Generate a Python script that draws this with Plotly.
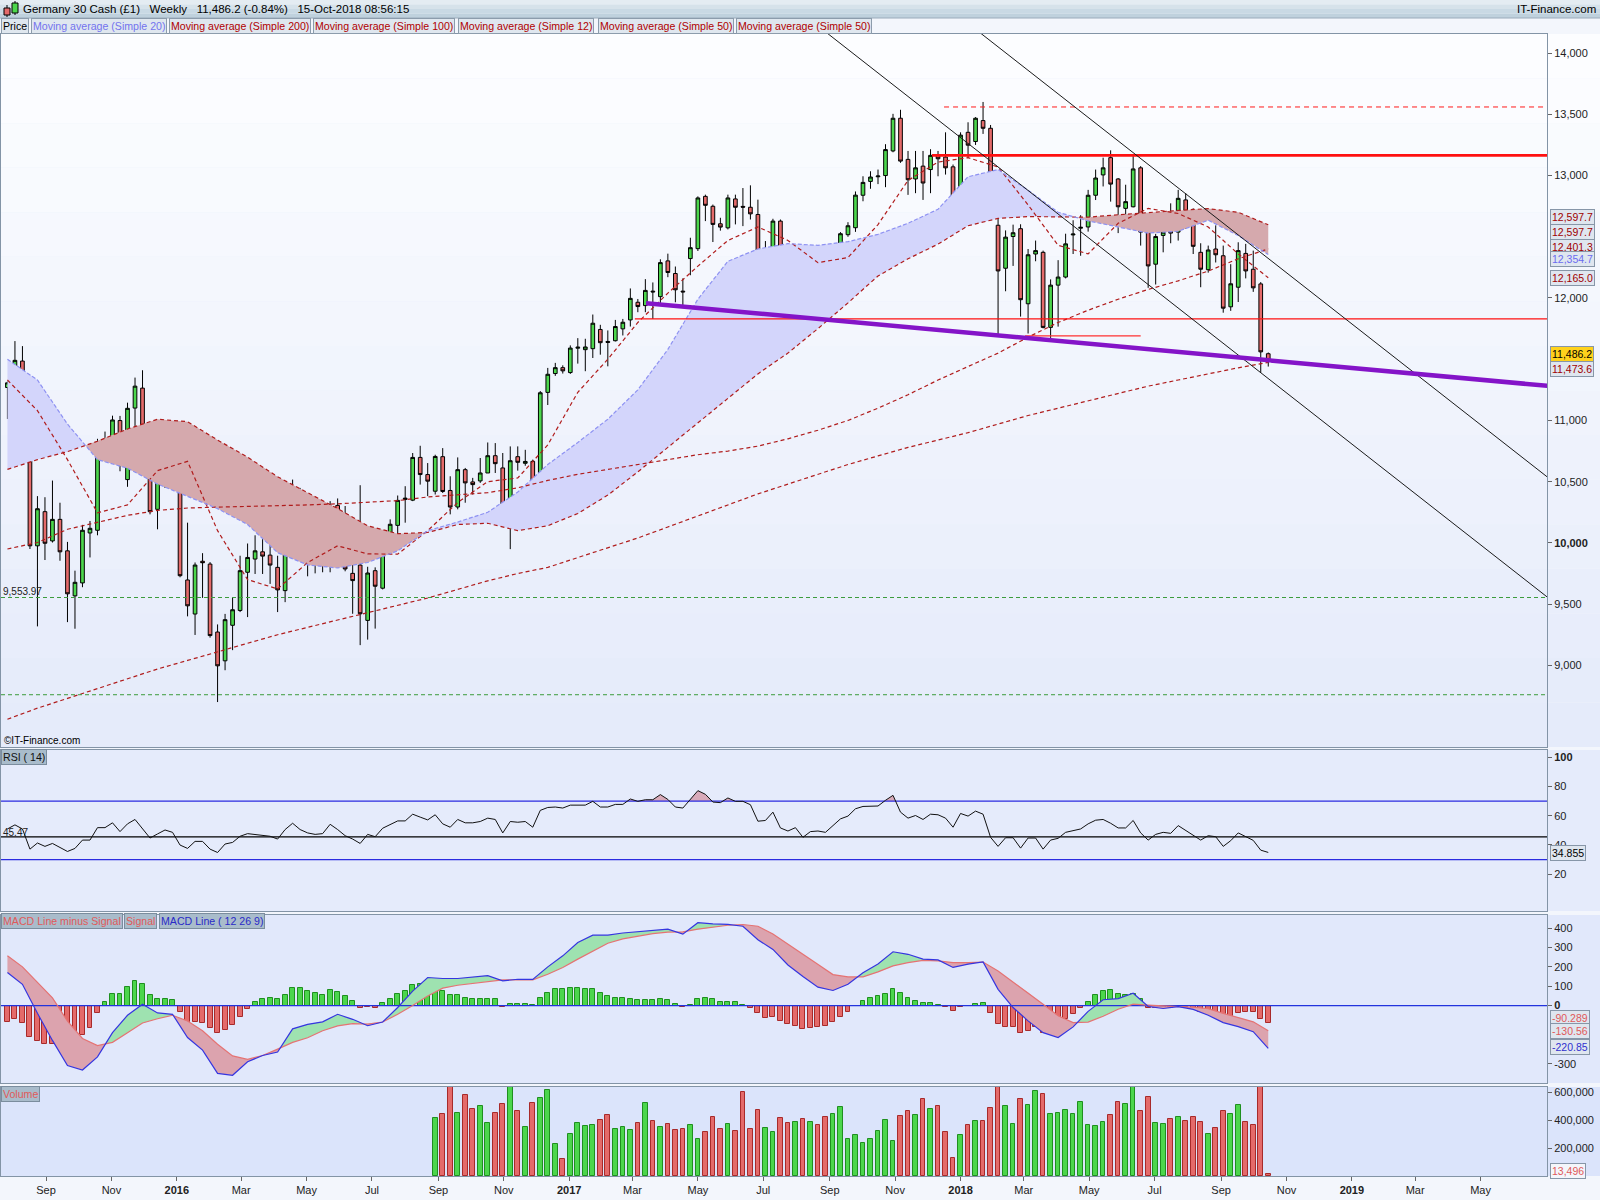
import pandas as pd
import plotly.graph_objects as go
from plotly.subplots import make_subplots

START = pd.Timestamp("2015-07-27")  # week of the first candle

OPEN = [11269, 11307, 11485, 11036, 9976, 10255, 10016, 10192, 9935, 9567,
        9673, 10081, 10103, 10800, 10785, 10999, 10517, 11101, 11264, 10863,
        10274, 10528, 10720, 10622, 9697, 9419, 9850, 9827, 9272, 9037,
        9327, 9448, 9760, 9868, 9927, 9900, 9800, 9610, 9957, 10417,
        10052, 9903, 9833, 9916, 10306, 10103, 9751, 9819, 9367, 9773,
        9630, 10079, 10143, 10355, 10349, 10698, 10558, 10422, 10704, 10428,
        10293, 10598, 10498, 10506, 10571, 10712, 10612, 10336, 10704, 10650,
        10666, 10341, 11229, 11383, 11431, 11391, 11590, 11578, 11586, 11743,
        11645, 11651, 11748, 11821, 11965, 11938, 12056, 12011, 12303, 12200,
        12056, 12322, 12403, 12830, 12749, 12606, 12573, 12809, 12748, 12741,
        12682, 12365, 12403, 12628, 12222, 12140, 12262, 11999, 12176, 12122,
        12038, 12330, 12517, 12574, 12839, 12952, 12990, 13000, 13201, 13468,
        13132, 12972, 13077, 13049, 13165, 13151, 13071, 12889, 13353, 13278,
        13449, 13386, 12594, 12243, 12502, 12566, 11953, 12359, 12373, 11760,
        12105, 12171, 12515, 12570, 12580, 12839, 13005, 13146, 12972, 12732,
        12745, 13063, 12538, 12276, 12511, 12558, 12538, 12801, 12640, 12373,
        12231, 12400, 12345, 11928, 12088, 12364, 12235, 12115, 11545]
HIGH = [11320, 11648, 11607, 11093, 10382, 10373, 10509, 10328, 10008, 9773,
        10147, 10179, 10850, 10909, 11039, 11037, 11145, 11350, 11410, 10977,
        10820, 10788, 10869, 10658, 10165, 9840, 9916, 9843, 9334, 9420,
        9556, 9895, 9995, 10062, 10103, 10027, 9895, 10095, 10517, 10449,
        10125, 10103, 10071, 10341, 10363, 10301, 9908, 10471, 9805, 9800,
        10103, 10192, 10387, 10463, 10734, 10793, 10652, 10720, 10774, 10544,
        10698, 10612, 10531, 10693, 10820, 10815, 10734, 10788, 10788, 10760,
        10680, 11240, 11429, 11470, 11450, 11613, 11672, 11667, 11865, 11781,
        11735, 11821, 11829, 12078, 11992, 12154, 12127, 12316, 12362, 12257,
        12160, 12492, 12830, 12844, 12763, 12655, 12844, 12844, 12898, 12920,
        12803, 12465, 12647, 12641, 12316, 12303, 12311, 12276, 12249, 12168,
        12338, 12538, 12619, 12870, 12994, 13035, 13049, 13256, 13504, 13537,
        13201, 13201, 13201, 13215, 13201, 13353, 13090, 13353, 13435, 13477,
        13601, 13413, 12751, 12552, 12599, 12602, 12400, 12469, 12387, 12152,
        12309, 12525, 12635, 12676, 12883, 13049, 13146, 13206, 12980, 12925,
        13159, 13077, 12552, 12524, 12629, 12773, 12883, 12856, 12732, 12447,
        12428, 12593, 12428, 12276, 12455, 12442, 12387, 12130, 11555]
LOW = [11012, 11228, 10874, 9950, 9318, 9860, 10003, 9854, 9353, 9299,
       9638, 9881, 10062, 10666, 10712, 10585, 10458, 10850, 10617, 10233,
       10111, 10449, 10449, 9719, 9400, 9248, 9551, 9226, 8700, 8960,
       9124, 9435, 9394, 9746, 9746, 9665, 9435, 9516, 9895, 10022,
       9727, 9751, 9760, 9760, 10030, 9768, 9421, 9165, 9210, 9300,
       9620, 9908, 10071, 10165, 10341, 10476, 10382, 10395, 10408, 10233,
       10274, 10328, 10395, 10490, 10571, 10571, 10192, 9949, 10590, 10630,
       10341, 10320, 11126, 11364, 11383, 11380, 11464, 11402, 11510, 11537,
       11442, 11645, 11694, 11767, 11884, 11884, 11829, 11938, 12170, 11965,
       11924, 12186, 12384, 12628, 12457, 12550, 12560, 12601, 12587, 12641,
       12281, 12289, 12384, 12168, 12067, 12059, 11897, 11992, 11992, 11837,
       12013, 12303, 12500, 12540, 12790, 12892, 12930, 12905, 13190, 13104,
       12842, 12856, 12801, 12856, 12994, 13008, 12815, 12732, 13146, 13250,
       13340, 12671, 11697, 12055, 12262, 11848, 11710, 12300, 11752, 11674,
       11766, 12160, 12359, 12345, 12542, 12800, 12911, 12787, 12530, 12594,
       12740, 12428, 12083, 12110, 12373, 12447, 12469, 12566, 12359, 12088,
       12207, 12290, 11880, 11895, 11967, 12160, 12050, 11390, 11440]
CLOSE = [11307, 11491, 11036, 9976, 10279, 9997, 10192, 9927, 9584, 9678,
         10103, 10119, 10801, 10812, 11004, 10631, 11099, 11280, 10850, 10255,
         10517, 10712, 10609, 9732, 9486, 9819, 9838, 9243, 8996, 9373,
         9454, 9773, 9881, 9935, 9892, 9819, 9616, 10038, 10395, 10062,
         9927, 9876, 9908, 10301, 10103, 9787, 9692, 9421, 9754, 9646,
         10008, 10152, 10347, 10365, 10698, 10558, 10504, 10706, 10420, 10293,
         10598, 10490, 10476, 10571, 10712, 10647, 10206, 10671, 10658, 10665,
         10382, 11226, 11377, 11431, 11405, 11591, 11598, 11600, 11794, 11635,
         11638, 11767, 11802, 11997, 11930, 12062, 12050, 12289, 12208, 12067,
         12050, 12411, 12817, 12757, 12601, 12579, 12817, 12741, 12742, 12687,
         12352, 12392, 12628, 12230, 12149, 12254, 11978, 12127, 12141, 12117,
         12262, 12525, 12590, 12840, 12944, 12988, 12996, 13212, 13468, 13118,
         12966, 13063, 12939, 13165, 13137, 13063, 12828, 13330, 13248, 13468,
         13386, 12685, 12221, 12497, 12533, 11986, 12353, 12387, 11760, 12105,
         12171, 12442, 12522, 12577, 12839, 12980, 13063, 12930, 12745, 12787,
         13054, 12538, 12262, 12502, 12538, 12530, 12814, 12635, 12422, 12235,
         12392, 12353, 11917, 12116, 12387, 12221, 12083, 11560, 11486.2]

# volume only starts in late August 2016 (week 57)
VOLUME = [None] * 57 + [
    415000, 444000, 660000, 451000, 582000, 480000, 502000, 378000, 451000, 516000,
    660000, 466000, 349000, 524000, 560000, 618000, 226000, 124000, 299000, 378000,
    357000, 364000, 400000, 437000, 335000, 349000, 328000, 378000, 524000, 393000,
    349000, 371000, 328000, 335000, 364000, 262000, 313000, 422000, 335000, 371000,
    320000, 604000, 335000, 473000, 342000, 313000, 415000, 378000, 386000, 407000,
    386000, 364000, 422000, 444000, 495000, 262000, 291000, 233000, 262000, 320000,
    400000, 248000, 429000, 466000, 437000, 553000, 480000, 502000, 313000, 132000,
    291000, 364000, 393000, 393000, 487000, 660000, 502000, 371000, 553000, 509000,
    611000, 589000, 444000, 451000, 473000, 444000, 531000, 364000, 357000, 386000,
    437000, 531000, 516000, 660000, 466000, 567000, 378000, 371000, 407000, 422000,
    393000, 422000, 386000, 299000, 342000, 466000, 444000, 509000, 386000, 364000,
    660000, 13496]

# moving averages, read every 4 weeks
MA_WEEKS = list(range(0, 169, 4))
MA12 = [11330, 11080, 10680, 10246, 10310, 10590, 10666, 10100, 9700, 9624,
        9840, 9976, 9910, 9908, 10100, 10330, 10500, 10530, 10800, 11230,
        11500, 11800, 12040, 12260, 12470, 12580, 12470, 12289, 12330, 12600,
        12960, 13110, 13146, 13070, 12760, 12430, 12360, 12610, 12732, 12690,
        12580, 12360, 12165]
MA20 = [11500, 11330, 10970, 10680, 10610, 10480, 10380, 10280, 10150, 9920,
        9820, 9795, 9840, 9935, 10100, 10170, 10250, 10415, 10640, 10820,
        11010, 11250, 11580, 11990, 12300, 12400, 12444, 12430, 12460, 12520,
        12610, 12725, 12990, 13049, 12880, 12700, 12630, 12580, 12530, 12545,
        12635, 12510, 12354.7]
MA50 = [10600, 10680, 10745, 10830, 10930, 11010, 10990, 10840, 10700, 10540,
        10410, 10280, 10140, 10075, 10085, 10150, 10160, 10100, 10140, 10240,
        10390, 10580, 10780, 10980, 11180, 11380, 11550, 11750, 11960, 12180,
        12320, 12440, 12590, 12650, 12665, 12660, 12660, 12680, 12700, 12715,
        12730, 12700, 12597.7]
MA100 = [9950, 10003, 10111, 10170, 10225, 10265, 10285, 10292, 10296, 10300,
         10310, 10319, 10330, 10345, 10375, 10390, 10410, 10450, 10510, 10560,
         10600, 10640, 10680, 10720, 10750, 10790, 10850, 10920, 11000, 11100,
         11210, 11330, 11440, 11550, 11680, 11800, 11900, 11990, 12070, 12140,
         12220, 12320, 12401.3]
MA200 = [8560, 8650, 8730, 8810, 8890, 8970, 9040, 9110, 9180, 9250,
         9310, 9370, 9425, 9490, 9550, 9620, 9690, 9750, 9800, 9880,
         9960, 10040, 10130, 10220, 10310, 10400, 10480, 10560, 10640, 10710,
         10780, 10840, 10900, 10970, 11040, 11100, 11160, 11220, 11280, 11330,
         11380, 11430, 11473.6]

RSI14 = [50.9, 53.7, 50.9, 37.1, 41.3, 39.0, 41.0, 38.3, 35.5, 37.6,
         43.3, 43.3, 51.8, 51.8, 55.1, 49.1, 54.4, 57.4, 51.4, 44.7,
         47.5, 50.2, 48.6, 39.9, 37.6, 42.4, 42.4, 37.1, 34.8, 40.6,
         41.7, 45.9, 47.7, 47.2, 46.8, 45.9, 44.0, 50.5, 54.8, 50.5,
         48.2, 47.2, 47.7, 54.1, 50.5, 46.3, 44.0, 41.0, 47.2, 45.6,
         51.4, 53.9, 56.4, 56.4, 61.0, 59.0, 57.1, 60.6, 54.4, 52.1,
         57.4, 55.1, 55.1, 56.0, 58.3, 57.4, 48.2, 56.0, 55.5, 56.0,
         52.1, 63.6, 65.6, 65.9, 65.2, 67.2, 67.2, 67.2, 69.8, 65.9,
         65.9, 67.7, 67.7, 71.4, 69.8, 70.9, 70.9, 74.4, 71.1, 65.9,
         65.2, 71.1, 77.1, 74.6, 69.3, 68.9, 72.1, 69.8, 69.8, 67.5,
         56.2, 56.7, 62.4, 51.6, 49.5, 51.8,
         45.2, 49.1, 49.5, 48.6, 53.5, 57.8, 59.7, 64.7, 66.3, 66.6,
         66.6, 70.5, 73.9, 62.4, 58.3, 60.1, 57.4, 61.0, 60.6, 58.3,
         52.1, 61.5, 59.7, 63.1, 61.0, 45.2, 39.0, 44.9, 44.9, 37.8,
         44.7, 44.7, 37.1, 43.3, 44.5, 48.6, 49.5, 50.9, 54.4, 56.9,
         57.4, 54.8, 51.6, 51.6, 56.7, 48.2, 43.3, 47.2, 48.6, 47.9,
         53.2, 49.8, 46.3, 43.3, 46.3, 45.6, 39.0, 42.9, 48.2, 45.4,
         43.1, 36.4, 34.855]
RSI_LEVEL = 45.47

MACD_HIST = [-83, -70, -88, -160, -183, -200, -200, -200, -205, -197,
             -153, -114, -36, 16, 62, 62, 97, 126, 109, 57,
             36, 36, 31, -33, -84, -84, -88, -114, -140, -128,
             -102, -59, -16, 16, 33, 41, 36, 57, 93, 93,
             76, 67, 57, 78, 71, 47, 24, -10, -5, -10,
             12, 36, 62, 76, 105, 109, 102, 102, 76, 57,
             53, 41, 33, 33, 36, 33, -5, 7, 7, 7,
             2, 40, 67, 84, 88, 93, 93, 84, 84, 64,
             50, 40, 41, 36, 31, 31, 28, 33, 28, 10,
             -5, 5, 33, 41, 33, 21, 21, 16, 5, -12,
             -40, -62, -59, -79, -97, -105, -119, -114, -109, -105,
             -83, -57, -31, -4, 26, 41, 47, 62, 84, 67,
             41, 26, 12, 12, 5, -5, -26, -9, -3, 7,
             12, -36, -93, -109, -109, -140, -129, -109, -143, -109,
             -109, -71, -41, -10, 21, 53, 74, 79, 62, 57,
             62, 33, -10, -14, -14, -14, -5, -9, -19, -31,
             -31, -31, -59, -59, -36, -31, -31, -69, -90.289]
MACD_WEEKS = list(range(0, 169, 2))
MACD_LINE = [171, 110, -40, -180, -310, -333, -265, -140, -50, 7,
             -38, -45, -165, -230, -350, -360, -290, -258, -240, -120,
             -97, -84, -45, -71, -104, -85, -10, 75, 145, 140,
             140, 148, 155, 128, 136, 135, 200, 257, 326, 364,
             364, 375, 381, 390, 395, 369, 428, 422, 420, 410,
             340, 290, 210, 150, 95, 78, 110, 170, 215, 278,
             265, 240, 236, 197, 214, 226, 84, -10, -79, -140,
             -165, -110, -30, 30, 36, 64, -5, -15, -5, -20,
             -50, -88, -109, -135, -220.85]
MACD_SIGNAL = [257, 200, 120, 40, -80, -170, -207, -190, -140, -90,
               -68, -50, -80, -130, -200, -260, -278, -258, -225, -190,
               -166, -130, -105, -93, -96, -85, -45, 0, 50, 90,
               105, 115, 125, 133, 133, 133, 162, 197, 240, 283,
               322, 345, 360, 372, 380, 381, 395, 405, 415, 419,
               410, 370, 317, 265, 210, 160, 148, 148, 174, 205,
               222, 234, 231, 222, 222, 225, 179, 122, 67, 7,
               -53, -88, -85, -55, -19, 7, 2, -3, -5, -8,
               -16, -40, -62, -84, -130.56]

# drawn levels and trend lines: (week, price)
LEVEL_TOP_DASHED = (124.8, 13560)
LEVEL_TOP = (123.2, 13165)
LEVEL_MID = (83.6, 11830)
LEVEL_LOW_SHORT = (135.6, 151.0, 11690)
LEVEL_953 = 9553.97
LEVEL_876 = 8760
CHANNEL_UPPER = [(120, 14627), (206, 10499)]
CHANNEL_LOWER = [(100, 14606), (206, 9518)]
SUPPORT_PURPLE = [(85.1, 11958), (206, 11278)]

X_RANGE = ["2015-07-21", "2019-07-02"]
FONT = "Liberation Sans, Arial, sans-serif"
GREEN, RED = "#4cd64c", "#e46a6a"


def wk(i):
    return START + pd.Timedelta(days=7 * i)


WEEKS = list(range(len(CLOSE)))
DATES = [wk(i) for i in WEEKS]


def band_traces(xs, a, b, up_color, down_color):
    # filled areas between two lines, coloured by which one is on top
    pieces, cur, prev = [], [], None
    for x, ya, yb in zip(xs, a, b):
        s = ya >= yb
        if prev is not None and s != prev:
            x0, a0, b0 = cur[-1]
            d0, d1 = a0 - b0, ya - yb
            t = d0 / (d0 - d1)
            xc, yc = x0 + t * (x - x0), a0 + t * (ya - a0)
            cur.append((xc, yc, yc))
            pieces.append((prev, cur))
            cur = [(xc, yc, yc)]
        cur.append((x, ya, yb))
        prev = s
    pieces.append((prev, cur))
    out = []
    for s, pts in pieces:
        col = up_color if s else down_color
        if col is None:
            continue
        px = [p[0] for p in pts] + [p[0] for p in reversed(pts)]
        py = [p[1] for p in pts] + [p[2] for p in reversed(pts)]
        out.append(go.Scatter(x=[wk(v) for v in px], y=py, mode="lines", fill="toself",
                              fillcolor=col, line=dict(width=0), hoverinfo="skip",
                              showlegend=False))
    return out


fig = make_subplots(rows=4, cols=1, shared_xaxes=True, vertical_spacing=0.01)

# ---- price panel
for tr in band_traces(MA_WEEKS, MA20, MA50, "#d3d5fb", "#d5a9ad"):
    fig.add_trace(tr, row=1, col=1)

ma_dash = "4px,3px"
for vals in (MA200, MA100, MA50, MA12):
    fig.add_trace(go.Scatter(x=[wk(i) for i in MA_WEEKS], y=vals, mode="lines",
                             line=dict(color="#b01c1c", width=1.2, dash=ma_dash),
                             hoverinfo="skip", showlegend=False), row=1, col=1)
fig.add_trace(go.Scatter(x=[wk(i) for i in MA_WEEKS], y=MA20, mode="lines",
                         line=dict(color="#8e92f2", width=1.2, dash="4px,2px"),
                         hoverinfo="skip", showlegend=False), row=1, col=1)

x_end = pd.Timestamp(X_RANGE[1])
x_start = pd.Timestamp(X_RANGE[0])
for lv in (LEVEL_953, LEVEL_876):
    fig.add_trace(go.Scatter(x=[x_start, x_end], y=[lv, lv], mode="lines",
                             line=dict(color="#3c9c3c", width=1, dash="4px,3px"),
                             hoverinfo="skip", showlegend=False), row=1, col=1)
fig.add_trace(go.Scatter(x=[wk(LEVEL_TOP_DASHED[0]), x_end], y=[LEVEL_TOP_DASHED[1]] * 2,
                         mode="lines", line=dict(color="#ff1a1a", width=1, dash="5px,4px"),
                         hoverinfo="skip", showlegend=False), row=1, col=1)
fig.add_trace(go.Scatter(x=[wk(LEVEL_TOP[0]), x_end], y=[LEVEL_TOP[1]] * 2,
                         mode="lines", line=dict(color="#ff1010", width=2.6),
                         hoverinfo="skip", showlegend=False), row=1, col=1)
fig.add_trace(go.Scatter(x=[wk(LEVEL_MID[0]), x_end], y=[LEVEL_MID[1]] * 2,
                         mode="lines", line=dict(color="#ff1010", width=1.3),
                         hoverinfo="skip", showlegend=False), row=1, col=1)
fig.add_trace(go.Scatter(x=[wk(LEVEL_LOW_SHORT[0]), wk(LEVEL_LOW_SHORT[1])],
                         y=[LEVEL_LOW_SHORT[2]] * 2, mode="lines",
                         line=dict(color="#ff3030", width=1.2),
                         hoverinfo="skip", showlegend=False), row=1, col=1)

fig.add_trace(go.Candlestick(
    x=DATES, open=OPEN, high=HIGH, low=LOW, close=CLOSE,
    increasing=dict(fillcolor=GREEN, line=dict(color="#000000", width=1)),
    decreasing=dict(fillcolor=RED, line=dict(color="#000000", width=1)),
    whiskerwidth=0, showlegend=False, hoverinfo="skip"), row=1, col=1)

for pts in (CHANNEL_UPPER, CHANNEL_LOWER):
    fig.add_trace(go.Scatter(x=[wk(p[0]) for p in pts], y=[p[1] for p in pts], mode="lines",
                             line=dict(color="#1a1a1a", width=1),
                             hoverinfo="skip", showlegend=False), row=1, col=1)
fig.add_trace(go.Scatter(x=[wk(p[0]) for p in SUPPORT_PURPLE], y=[p[1] for p in SUPPORT_PURPLE],
                         mode="lines", line=dict(color="#8414c8", width=4.5),
                         hoverinfo="skip", showlegend=False), row=1, col=1)

# ---- RSI panel
for tr in band_traces(WEEKS, RSI14, [70] * len(RSI14), "#d8aab9", None):
    fig.add_trace(tr, row=2, col=1)
for lv, col, w in ((70, "#2b2be0", 1.3), (30, "#2b2be0", 1.3), (RSI_LEVEL, "#000000", 1.4)):
    fig.add_trace(go.Scatter(x=[x_start, x_end], y=[lv, lv], mode="lines",
                             line=dict(color=col, width=w), hoverinfo="skip",
                             showlegend=False), row=2, col=1)
fig.add_trace(go.Scatter(x=DATES, y=RSI14, mode="lines", line=dict(color="#111111", width=1),
                         hoverinfo="skip", showlegend=False), row=2, col=1)

# ---- MACD panel
fig.add_trace(go.Bar(x=DATES, y=MACD_HIST, width=0.66 * 7 * 86400000,
                     marker=dict(color=[GREEN if v >= 0 else RED for v in MACD_HIST],
                                 line=dict(color=["#1f8f1f" if v >= 0 else "#a82a2a" for v in MACD_HIST],
                                           width=1)),
                     hoverinfo="skip", showlegend=False), row=3, col=1)
for tr in band_traces(MACD_WEEKS, MACD_LINE, MACD_SIGNAL, "#9ee2b0", "#dca3ae"):
    fig.add_trace(tr, row=3, col=1)
fig.add_trace(go.Scatter(x=[x_start, x_end], y=[0, 0], mode="lines",
                         line=dict(color="#2233dd", width=1.3), hoverinfo="skip",
                         showlegend=False), row=3, col=1)
fig.add_trace(go.Scatter(x=[wk(i) for i in MACD_WEEKS], y=MACD_SIGNAL, mode="lines",
                         line=dict(color="#e57373", width=1.2), hoverinfo="skip",
                         showlegend=False), row=3, col=1)
fig.add_trace(go.Scatter(x=[wk(i) for i in MACD_WEEKS], y=MACD_LINE, mode="lines",
                         line=dict(color="#3535e0", width=1.2), hoverinfo="skip",
                         showlegend=False), row=3, col=1)

# ---- Volume panel
vol_up = [c >= o for o, c in zip(OPEN, CLOSE)]
fig.add_trace(go.Bar(x=DATES[57:], y=VOLUME[57:], width=0.62 * 7 * 86400000,
                     marker=dict(color=[GREEN if u else RED for u in vol_up[57:]],
                                 line=dict(color=["#1f8f1f" if u else "#a82a2a" for u in vol_up[57:]],
                                           width=1)),
                     hoverinfo="skip", showlegend=False), row=4, col=1)

# ---- layout
W, H, ML, MR, MT, MB = 1600, 1200, 1, 53, 34, 24
PH = H - MT - MB
PW = W - ML - MR


def py(px):
    return (H - MB - px) / PH


def pxx(px):
    return (px - ML) / PW


domains = [[py(747), 1.0], [py(911), py(750)], [py(1083), py(915)], [0.0, py(1087)]]
axis_line = "#8394a6"
tick_font = dict(family=FONT, size=11, color="#222222")
for r in range(4):
    sfx = "" if r == 0 else str(r + 1)
    fig.layout["yaxis" + sfx].update(domain=domains[r], side="right", showgrid=False,
                                     zeroline=False, showline=True, mirror=True,
                                     linecolor=axis_line, ticks="outside", ticklen=4,
                                     tickcolor="#666666", tickfont=tick_font)
    fig.layout["xaxis" + sfx].update(type="date", range=X_RANGE, showgrid=False,
                                     zeroline=False, showline=True, mirror=True,
                                     linecolor=axis_line, rangeslider=dict(visible=False),
                                     showticklabels=(r == 3))

fig.layout.yaxis.update(range=[8333, 14156],
                        tickvals=[9000, 9500, 10000, 10500, 11000, 12000, 13000, 13500, 14000],
                        ticktext=["9,000", "9,500", "<b>10,000</b>", "10,500", "11,000",
                                  "12,000", "13,000", "13,500", "14,000"])
fig.layout.yaxis2.update(range=[-5.2, 104.9], tickvals=[20, 40, 60, 80, 100],
                         ticktext=["20", "40", "60", "80", "<b>100</b>"])
fig.layout.yaxis3.update(range=[-400, 468], tickvals=[-300, 0, 100, 200, 300, 400],
                         ticktext=["-300", "<b>0</b>", "100", "200", "300", "400"])
fig.layout.yaxis4.update(range=[0, 637000], tickvals=[200000, 400000, 600000],
                         ticktext=["200,000", "400,000", "600,000"])

months = pd.date_range("2015-09-01", "2019-05-01", freq="2MS")
fig.layout.xaxis4.update(tickvals=list(months),
                         ticktext=[f"<b>{m.year}</b>" if m.month == 1 else m.strftime("%b")
                                   for m in months],
                         ticks="outside", ticklen=4, tickcolor="#666666", tickfont=tick_font)

shapes = []
# header strip
hdr = ["#e4ecf2", "#d6e2ea", "#c9d9e4", "#bfd1dd"]
for k, c in enumerate(hdr):
    top = 18 * k / 4
    shapes.append(dict(type="rect", xref="paper", yref="paper", x0=-0.01, x1=1.05,
                       y0=py(top + 18 / 4), y1=py(top), fillcolor=c, line=dict(width=0),
                       layer="below"))
shapes.append(dict(type="line", xref="paper", yref="paper", x0=-0.01, x1=1.05,
                   y0=py(18), y1=py(18), line=dict(color="#9aaaba", width=1)))
# candle icon in the header
shapes.append(dict(type="line", xref="paper", yref="paper", x0=pxx(7), x1=pxx(7),
                   y0=py(17), y1=py(5), line=dict(color="#000", width=1)))
shapes.append(dict(type="rect", xref="paper", yref="paper", x0=pxx(4), x1=pxx(10),
                   y0=py(15), y1=py(8), fillcolor=RED, line=dict(color="#000", width=1)))
shapes.append(dict(type="line", xref="paper", yref="paper", x0=pxx(15), x1=pxx(15),
                   y0=py(15), y1=py(1), line=dict(color="#000", width=1)))
shapes.append(dict(type="rect", xref="paper", yref="paper", x0=pxx(12), x1=pxx(18),
                   y0=py(13), y1=py(3), fillcolor=GREEN, line=dict(color="#000", width=1)))

# price panel gradient background
top_rgb, bot_rgb = (253, 254, 255), (228, 234, 250)
nb = 16
for k in range(nb):
    f = (k + 0.5) / nb
    rgb = tuple(round(bot_rgb[j] + (top_rgb[j] - bot_rgb[j]) * f) for j in range(3))
    shapes.append(dict(type="rect", xref="paper", yref="y domain", x0=0, x1=1.04,
                       y0=k / nb, y1=(k + 1) / nb, fillcolor="rgb(%d,%d,%d)" % rgb,
                       line=dict(width=0), layer="below"))
for ref, c in (("y2 domain", "#e5ebfb"), ("y3 domain", "#e1e8fb"), ("y4 domain", "#dbe4fb")):
    shapes.append(dict(type="rect", xref="paper", yref=ref, x0=0, x1=1.04, y0=0, y1=1,
                       fillcolor=c, line=dict(width=0), layer="below"))
fig.update_layout(shapes=shapes)

ann = []
ann.append(dict(xref="paper", yref="paper", x=pxx(21), y=py(9), xanchor="left", yanchor="middle",
                text="Germany 30 Cash (£1)&nbsp;&nbsp;&nbsp;Weekly&nbsp;&nbsp;&nbsp;11,486.2 (-0.84%)"
                     "&nbsp;&nbsp;&nbsp;15-Oct-2018 08:56:15",
                showarrow=False, font=dict(family=FONT, size=11.5, color="#000")))
ann.append(dict(xref="paper", yref="paper", x=pxx(1598), y=py(9), xanchor="right", yanchor="middle",
                text="IT-Finance.com", showarrow=False, font=dict(family=FONT, size=11.5, color="#000")))

tags = [("Price", "#000000", 0), ("Moving average (Simple 20)", "#7373ee", 30),
        ("Moving average (Simple 200)", "#b00000", 168), ("Moving average (Simple 100)", "#b00000", 312),
        ("Moving average (Simple 12)", "#b00000", 457), ("Moving average (Simple 50)", "#b00000", 597),
        ("Moving average (Simple 50)", "#b00000", 735)]
for txt, col, x0 in tags:
    ann.append(dict(xref="paper", yref="paper", x=pxx(x0 + 1), y=py(26), xanchor="left",
                    yanchor="middle", text=txt, showarrow=False,
                    font=dict(family=FONT, size=10.6, color=col), bgcolor="#dfe7ef",
                    bordercolor="#8c9cac", borderwidth=1, borderpad=1))

panel_tags = [("RSI ( 14)", "#111111", 1, 757), ("MACD Line minus Signal", "#e05a5a", 1, 921),
              ("Signal", "#e05a5a", 124, 921), ("MACD Line ( 12 26 9)", "#2a2ac8", 159, 921),
              ("Volume", "#e05a5a", 1, 1094)]
for txt, col, x0, yc in panel_tags:
    ann.append(dict(xref="paper", yref="paper", x=pxx(x0), y=py(yc), xanchor="left",
                    yanchor="middle", text=txt, showarrow=False,
                    font=dict(family=FONT, size=10.6, color=col), bgcolor="#a9bccb",
                    bordercolor="#7b8d9e", borderwidth=1, borderpad=1))

ann.append(dict(xref="paper", yref="paper", x=pxx(2), y=py(741), xanchor="left", yanchor="middle",
                text="©IT-Finance.com", showarrow=False, font=dict(family=FONT, size=10, color="#000")))
ann.append(dict(xref="paper", yref="y", x=0, y=LEVEL_953, xanchor="left", yanchor="middle",
                yshift=6, text="9,553.97", showarrow=False,
                font=dict(family=FONT, size=10, color="#222")))
ann.append(dict(xref="paper", yref="y2", x=0, y=RSI_LEVEL, xanchor="left", yanchor="middle",
                yshift=4, text="45.47", showarrow=False,
                font=dict(family=FONT, size=10, color="#222")))

# value boxes on the right axis: (text, axis, y position, text colour, background)
boxes = [("12,597.7", "y", 12658, "#a00000", "#dfe6ef"), ("12,597.7", "y", 12542, "#a00000", "#dfe6ef"),
         ("12,401.3", "y", 12417, "#a00000", "#dfe6ef"), ("12,354.7", "y", 12317, "#6b6bf0", "#dfe6ef"),
         ("12,165.0", "y", 12167, "#a00000", "#dfe6ef"), ("11,486.2", "y", 11542, "#000000", "#ffd21c"),
         ("11,473.6", "y", 11417, "#a00000", "#dfe6ef"), ("34.855", "y2", 34.5, "#000000", "#dfe6ef"),
         ("-90.289", "y3", -63, "#e05a5a", "#dfe6ef"), ("-130.56", "y3", -132, "#e05a5a", "#dfe6ef"),
         ("-220.85", "y3", -216, "#3030d0", "#dfe6ef"), ("13,496", "y4", 37000, "#e05a5a", "#f4f6fb")]
for txt, ref, yv, col, bg in boxes:
    ann.append(dict(xref="paper", yref=ref, x=1, y=yv, xanchor="left", yanchor="middle",
                    xshift=3, text=txt, showarrow=False,
                    font=dict(family=FONT, size=10.5, color=col), bgcolor=bg,
                    bordercolor="#8796a8", borderwidth=1, borderpad=1))

fig.update_layout(width=W, height=H, margin=dict(l=ML, r=MR, t=MT, b=MB),
                  paper_bgcolor="#f3f6fc", plot_bgcolor="#e8edfa",
                  font=dict(family=FONT, size=11, color="#222"),
                  annotations=ann, showlegend=False, bargap=0, hovermode=False)

# page without the default body margin, so the 1600x1200 figure fills the window exactly
fig.write_html("out.html", config={"displayModeBar": False},
               post_script="document.body.style.margin='0';document.body.style.overflow='hidden';")
